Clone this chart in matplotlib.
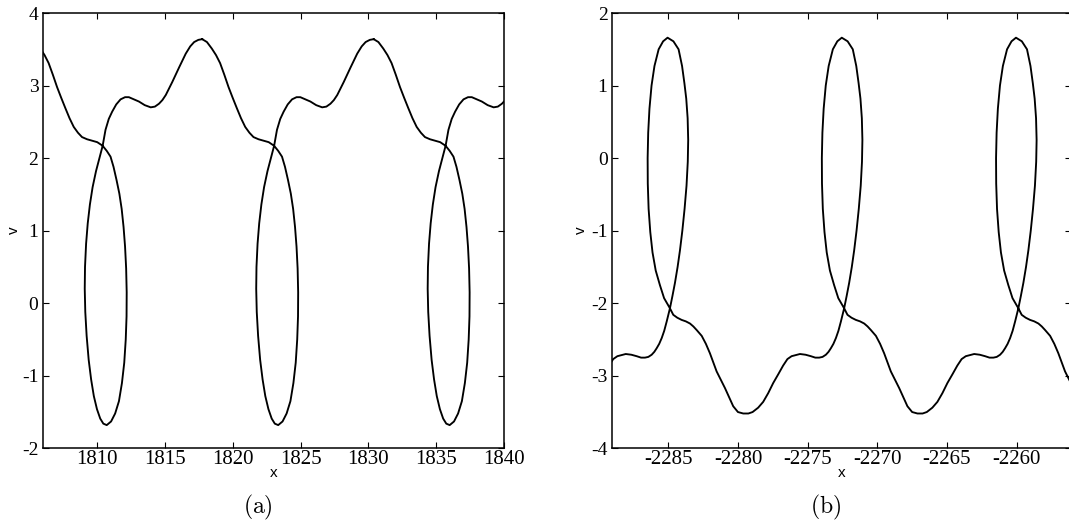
import matplotlib
matplotlib.use("Agg")
import matplotlib.pyplot as plt
import numpy as np

plt.rcParams["axes.unicode_minus"] = False
plt.rcParams["mathtext.fontset"] = "cm"

# ---- panel (a): one orbit period, offsets relative to the loop bottom ----
a_loop_x = [1810.72, 1823.35, 1835.98]
a_cycle_dx = [
    -5.60, -5.25, -4.89, -4.58, -4.28, -3.97, -3.66, -3.35, -3.05, -2.74,
    -2.43, -2.12, -1.82, -1.45, -1.08, -0.70, -0.30, 0.00, 0.28, 0.50,
    0.72, 0.93, 1.10, 1.24, 1.35, 1.43, 1.47, 1.46, 1.40, 1.29,
    1.12, 0.90, 0.62, 0.32, 0.00, -0.25, -0.48, -0.72, -0.95, -1.15,
    -1.33, -1.48, -1.58, -1.62, -1.60, -1.52, -1.40, -1.24, -1.04, -0.79,
    -0.55, -0.30, -0.09, 0.15, 0.40, 0.70, 1.02, 1.35, 1.63, 2.00,
    2.37, 2.80, 3.24, 3.55, 3.85, 4.10, 4.35, 4.83, 5.33, 5.82,
    6.15, 6.44, 6.75, 7.05,
]
a_cycle_v = [
    3.64, 3.60, 3.51, 3.42, 3.31, 3.15, 2.98, 2.83, 2.69, 2.55,
    2.43, 2.35, 2.29, 2.26, 2.24, 2.22, 2.17, 2.10, 2.02, 1.88,
    1.70, 1.51, 1.30, 1.05, 0.78, 0.48, 0.15, -0.18, -0.50, -0.82,
    -1.10, -1.35, -1.52, -1.63, -1.68, -1.66, -1.59, -1.46, -1.28, -1.05,
    -0.78, -0.45, -0.12, 0.20, 0.50, 0.82, 1.10, 1.36, 1.60, 1.82,
    1.99, 2.17, 2.39, 2.54, 2.64, 2.74, 2.81, 2.84, 2.84, 2.81,
    2.78, 2.73, 2.70, 2.71, 2.75, 2.80, 2.87, 3.05, 3.25, 3.44,
    3.54, 3.60, 3.63, 3.64,
]
a_xticks = [1810, 1815, 1820, 1825, 1830, 1835, 1840]
a_yticks = [-2, -1, 0, 1, 2, 3, 4]

# ---- panel (b): one orbit period, offsets relative to the loop top ----
b_loop_x = [-2285.05, -2272.55, -2260.05]
b_cycle_dx = [
    -7.07, -6.70, -6.40, -6.00, -5.64, -5.28, -4.92, -4.56, -4.21, -3.90,
    -3.60, -3.00, -2.60, -2.22, -1.90, -1.62, -1.38, -1.14, -0.95, -0.78,
    -0.60, -0.42, -0.24, -0.06, 0.17, 0.35, 0.53, 0.72, 0.89, 1.06,
    1.22, 1.36, 1.45, 1.48, 1.44, 1.34, 1.21, 1.04, 0.79, 0.42,
    0.00, -0.32, -0.64, -0.94, -1.15, -1.30, -1.39, -1.43, -1.42, -1.36,
    -1.24, -1.08, -0.85, -0.55, -0.25, 0.05, 0.17, 0.41, 0.70, 1.01,
    1.31, 1.61, 1.85, 2.09, 2.45, 2.75, 3.04, 3.52, 4.12, 4.71,
    5.05, 5.43,
]
b_cycle_v = [
    -3.52, -3.52, -3.50, -3.44, -3.36, -3.24, -3.10, -2.98, -2.86, -2.77,
    -2.73, -2.70, -2.71, -2.73, -2.75, -2.75, -2.74, -2.71, -2.67, -2.62,
    -2.56, -2.48, -2.38, -2.25, -2.07, -1.90, -1.72, -1.50, -1.27, -1.00,
    -0.70, -0.38, -0.05, 0.25, 0.55, 0.82, 1.03, 1.27, 1.50, 1.61,
    1.66, 1.61, 1.50, 1.27, 1.00, 0.68, 0.35, 0.00, -0.35, -0.70,
    -1.02, -1.30, -1.55, -1.75, -1.93, -2.03, -2.07, -2.16, -2.20, -2.23,
    -2.25, -2.28, -2.32, -2.37, -2.45, -2.56, -2.69, -2.94, -3.17, -3.42,
    -3.50, -3.52,
]
b_xticks = [-2285, -2280, -2275, -2270, -2265, -2260]
b_yticks = [-4, -3, -2, -1, 0, 1, 2]


def trajectory(loop_x, cycle_dx, cycle_v):
    xs, vs = [], []
    for x0 in loop_x:
        xs.append(np.asarray(cycle_dx) + x0)
        vs.append(np.asarray(cycle_v))
    return np.concatenate(xs), np.concatenate(vs)


def style_axes(ax, xticks, yticks, xlim, ylim, ylab_x):
    ax.set_xlim(*xlim)
    ax.set_ylim(*ylim)
    ax.set_xticks(xticks)
    ax.set_yticks(yticks)
    ax.set_xticklabels([str(t) for t in xticks], family="Liberation Serif", fontsize=15)
    ax.set_yticklabels([str(t) for t in yticks], family="Liberation Serif", fontsize=14)
    ax.tick_params(direction="in", length=4, width=0.8, top=True, right=True)
    ax.tick_params(axis="x", pad=1.5)
    ax.tick_params(axis="y", pad=3)
    for s in ax.spines.values():
        s.set_linewidth(1.1)
    ax.set_xlabel("x", family="Liberation Sans", fontsize=11, va="center")
    ax.set_ylabel("v", family="Liberation Sans", fontsize=11, va="center")
    ax.xaxis.set_label_coords(0.5, -0.056)
    ax.yaxis.set_label_coords(ylab_x, 0.5)


fig = plt.figure(figsize=(10.69, 5.27), dpi=100)
ax_a = fig.add_axes([0.0399, 0.1493, 0.4318, 0.8260])
ax_b = fig.add_axes([0.5722, 0.1493, 0.4297, 0.8260])

xa, va = trajectory(a_loop_x, a_cycle_dx, a_cycle_v)
ax_a.plot(xa, va, color="black", lw=1.35)
style_axes(ax_a, a_xticks, a_yticks, (1806, 1840), (-2, 4), -0.063)

xb, vb = trajectory(b_loop_x, b_cycle_dx, b_cycle_v)
ax_b.plot(xb, vb, color="black", lw=1.35)
style_axes(ax_b, b_xticks, b_yticks, (-2289.06, -2256.1), (-4, 2), -0.066)

fig.text(258 / 1069, 1 - 507 / 527, r"$\mathrm{(a)}$", fontsize=17, ha="center", va="center")
fig.text(826 / 1069, 1 - 507 / 527, r"$\mathrm{(b)}$", fontsize=17, ha="center", va="center")

fig.savefig("out.png", dpi=100)
